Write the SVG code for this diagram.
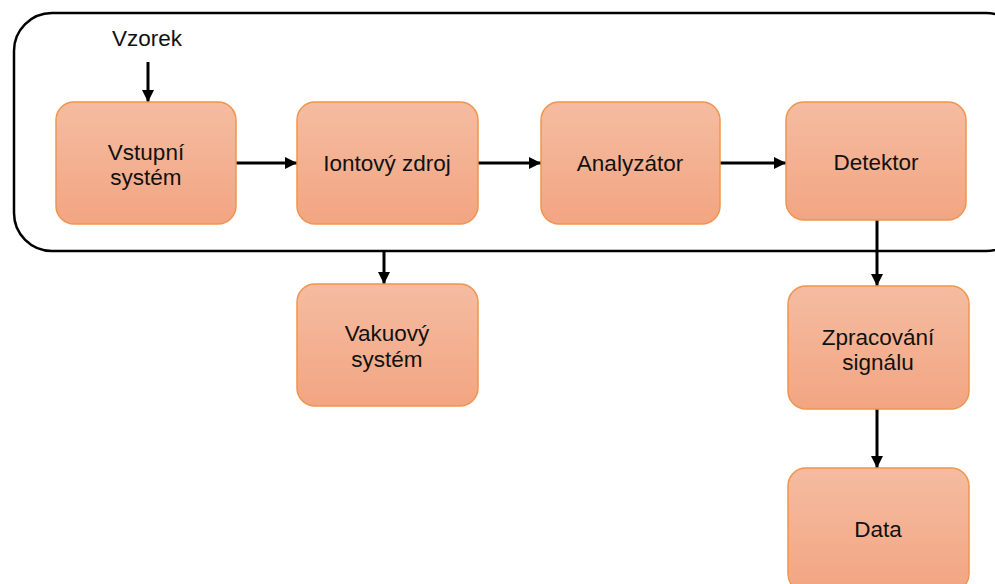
<svg xmlns="http://www.w3.org/2000/svg" width="995" height="584" viewBox="0 0 995 584">
<style>
.box{fill:url(#g);stroke:#F0954F;stroke-width:1.5}
.t{font-family:"Liberation Sans",Arial,sans-serif;font-size:22.5px;fill:#111;text-anchor:middle}
.c{stroke:#000;stroke-width:3;fill:none;marker-end:url(#ah)}
</style>
<defs>
<linearGradient id="g" x1="0" y1="0" x2="0" y2="1">
<stop offset="0" stop-color="#F5BCA1"/>
<stop offset="1" stop-color="#F2A582"/>
</linearGradient>
<marker id="ah" viewBox="0 0 10 10" refX="10" refY="5" markerWidth="4.3" markerHeight="4" orient="auto" markerUnits="strokeWidth">
<path d="M0,0 L10,5 L0,10 z" fill="#000"/>
</marker>
</defs>
<rect id="container" x="14" y="13" width="1010" height="238" rx="38" fill="none" stroke="#000" stroke-width="2.5"/>
<text class="t" x="147" y="46">Vzorek</text>
<g id="connectors">
<line class="c" x1="148" y1="62" x2="148" y2="102"/>
<line class="c" x1="236" y1="163" x2="297" y2="163"/>
<line class="c" x1="478" y1="163" x2="541" y2="163"/>
<line class="c" x1="720" y1="163" x2="786" y2="163"/>
<line class="c" x1="384" y1="251" x2="384" y2="284"/>
<line class="c" x1="877" y1="220" x2="877" y2="286"/>
<line class="c" x1="877" y1="409" x2="877" y2="468"/>
</g>
<g id="vstupni"><rect class="box" x="56" y="102" width="180" height="122" rx="18"/><text class="t" x="146" y="160">Vstupní</text><text class="t" x="146" y="185">systém</text></g>
<g id="iontovy"><rect class="box" x="297" y="102" width="181" height="122" rx="18"/><text class="t" x="387" y="171">Iontový zdroj</text></g>
<g id="analyzator"><rect class="box" x="541" y="102" width="179" height="122" rx="18"/><text class="t" x="630" y="171">Analyzátor</text></g>
<g id="detektor"><rect class="box" x="786" y="102" width="180" height="118" rx="18"/><text class="t" x="876" y="170">Detektor</text></g>
<g id="vakuovy"><rect class="box" x="297" y="284" width="181" height="122" rx="18"/><text class="t" x="387" y="341">Vakuový</text><text class="t" x="387" y="367">systém</text></g>
<g id="zpracovani"><rect class="box" x="788" y="286" width="181" height="123" rx="18"/><text class="t" x="878" y="345">Zpracování</text><text class="t" x="878" y="370">signálu</text></g>
<g id="data"><rect class="box" x="788" y="468" width="181" height="124" rx="18"/><text class="t" x="878" y="537">Data</text></g>
</svg>
